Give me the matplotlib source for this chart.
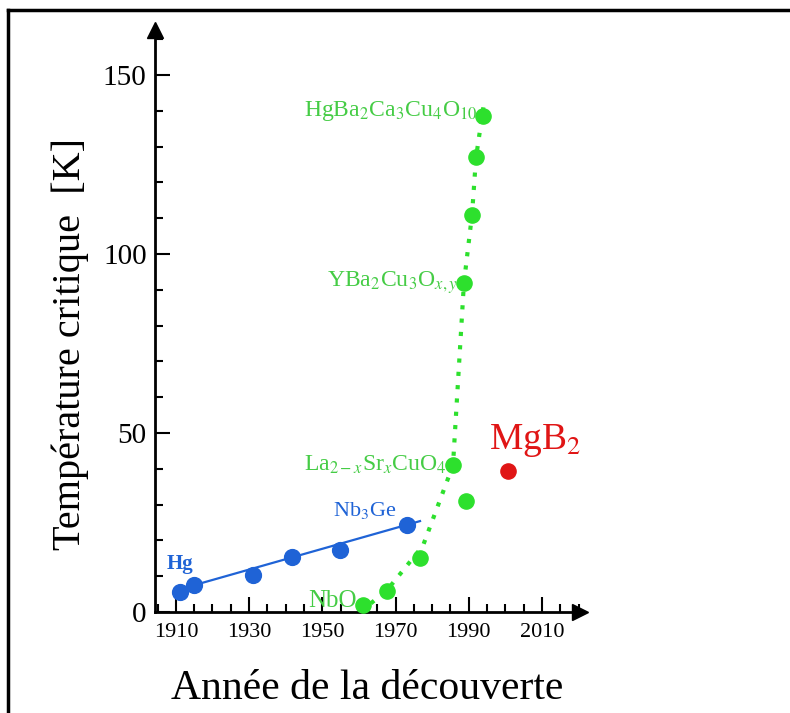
import matplotlib.pyplot as plt
from matplotlib.ticker import MultipleLocator
from matplotlib.lines import Line2D

plt.rcParams['font.family'] = ['Liberation Serif', 'DejaVu Serif']
plt.rcParams['mathtext.fontset'] = 'stix'

# conventional superconductors (blue)
blue_years = [1911, 1915, 1931, 1941.7, 1954.8, 1973.1]
blue_tc = [5.6, 7.5, 10.3, 15.4, 17.3, 24.3]
blue_fit_years = [1915, 1976.7]
blue_fit_tc = [7.5, 25.4]

# oxides (green)
green_years = [1961, 1967.6, 1976.7, 1985.7, 1989.2, 1988.7, 1990.9, 1992, 1994]
green_tc = [2, 6, 15, 41, 31, 92, 111, 127, 138.5]
green_trend_years = [1960.5, 1968, 1977.5, 1985.7, 1988.7, 1990.9, 1992, 1994]
green_trend_tc = [0, 6.5, 18.5, 41, 92, 111, 127, 141]

# MgB2 (red)
mgb2_year = [2000.7]
mgb2_tc = [39.4]

x_ticks = [1910, 1930, 1950, 1970, 1990, 2010]
y_ticks = [0, 50, 100, 150]

BLUE = '#1f63d6'
GREEN = '#2de02d'
GREEN_TXT = '#45cc45'
RED = '#e01515'

W, H = 790, 713
fig = plt.figure(figsize=(W / 100, H / 100), dpi=100)

# frame around the picture
fig.add_artist(Line2D([8 / W, 8 / W], [0, 1 - 10 / H], color='black', lw=2.5))
fig.add_artist(Line2D([8 / W, 1], [1 - 10 / H, 1 - 10 / H], color='black', lw=2.5))

ax = fig.add_axes([155 / W, (H - 612) / H, (580 - 155) / W, (612 - 30) / H])
ax.set_xlim(1904.3, 2020.4)
ax.set_ylim(0, 162.6)

for s in ['top', 'right']:
    ax.spines[s].set_visible(False)
for s in ['left', 'bottom']:
    ax.spines[s].set_linewidth(2)
ax.plot(1, 0, '>k', ms=11, transform=ax.transAxes, clip_on=False)
ax.plot(0, 1, '^k', ms=11, transform=ax.transAxes, clip_on=False)

ax.set_xticks(x_ticks)
ax.set_yticks(y_ticks)
ax.xaxis.set_minor_locator(MultipleLocator(5))
ax.yaxis.set_minor_locator(MultipleLocator(10))
ax.tick_params(which='major', direction='in', length=11, width=1.5, labelsize=16, pad=8)
ax.tick_params(axis='y', which='major', labelsize=21, pad=6)
ax.tick_params(which='minor', direction='in', length=6, width=1.5)

ax.set_xlabel("Année de la découverte", fontsize=30, labelpad=20)
ax.set_ylabel("Température critique  [K]", fontsize=29)
ax.yaxis.set_label_coords(-0.155, 0.46)

# blue series
ax.plot(blue_fit_years, blue_fit_tc, color=BLUE, lw=1.6, zorder=2)
ax.scatter(blue_years, blue_tc, s=130, color=BLUE, zorder=3, clip_on=False)
ax.text(1907.5, 10.5, "Hg", color=BLUE, fontsize=15, fontweight='bold', va='bottom')
ax.text(1953, 25.3, r"Nb$_3$Ge", color=BLUE, fontsize=16, va='bottom')

# green series
ax.plot(green_trend_years, green_trend_tc, color=GREEN, lw=3, ls=(0, (1, 2.2)), zorder=2)
ax.scatter(green_years, green_tc, s=120, color=GREEN, zorder=3, clip_on=False)
ax.text(1959.5, 3, "NbO", color=GREEN_TXT, fontsize=18, ha='right', va='center')
ax.text(1984, 41, r"La$_{2-x}$Sr$_x$CuO$_4$", color=GREEN_TXT, fontsize=17, ha='right', va='center')
ax.text(1987, 92, r"YBa$_2$Cu$_3$O$_{x,y}$", color=GREEN_TXT, fontsize=17, ha='right', va='center')
ax.text(1992.5, 140, r"HgBa$_2$Ca$_3$Cu$_4$O$_{10}$", color=GREEN_TXT, fontsize=17, ha='right', va='center')

# MgB2
ax.scatter(mgb2_year, mgb2_tc, s=120, color=RED, zorder=3)
ax.text(2008, 48, r"MgB$_2$", color=RED, fontsize=27, ha='center', va='center')

fig.savefig('out.png', dpi=100)
